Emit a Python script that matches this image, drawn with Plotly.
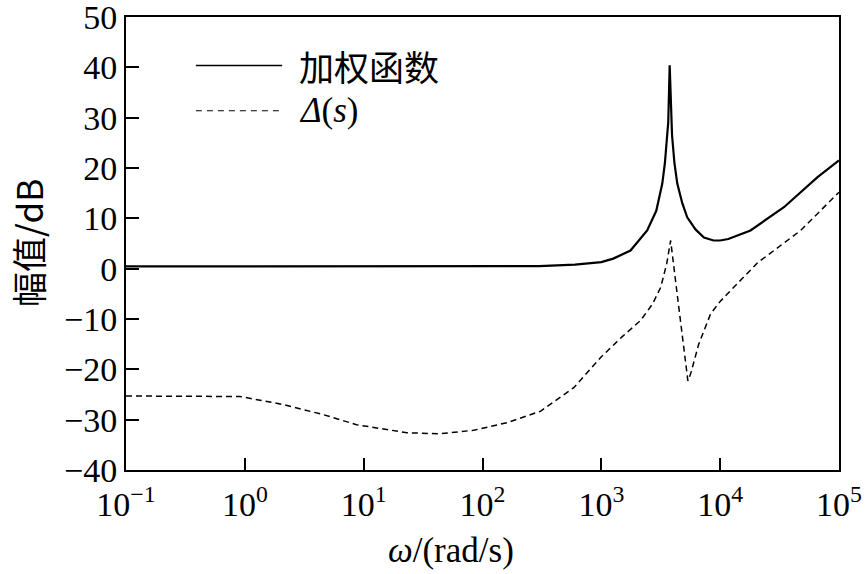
import plotly.graph_objects as go

# Weighting function (solid)
w_weight = [0.1, 1, 10, 100, 300, 600, 1000, 1260, 1760, 2430, 2900, 3258, 3428,
            3589, 3656, 3760, 3864, 3936, 4121, 4355, 4800, 5280, 6200, 7300, 8800,
            10000, 11700, 18000, 34400, 66000, 100000]
db_weight = [0.45, 0.45, 0.45, 0.45, 0.5, 0.8, 1.3, 2.0, 3.6, 7.6, 11.5, 16.9, 21.0,
             26.8, 29.0, 40.4, 29.0, 26.5, 21.0, 16.9, 13.0, 10.2, 7.8, 6.2, 5.6,
             5.6, 5.9, 7.6, 12.2, 18.2, 21.5]

# Delta(s) (dashed)
w_delta = [0.1, 0.5, 0.91, 2.11, 4.57, 8.7, 23.1, 44.2, 84.3, 161, 309, 589, 1000,
           1500, 2140, 2700, 3160, 3550, 3830, 4520, 5350, 5640, 6600, 8300, 10000,
           12300, 20900, 24900, 47600, 100000]
db_delta = [-25.3, -25.3, -25.4, -27.0, -29.0, -31.0, -32.6, -32.8, -32.1, -30.6,
            -28.3, -23.6, -17.5, -13.5, -10.3, -7.0, -3.7, 1.0, 5.6, -8.3, -22.3,
            -20.9, -15.0, -9.0, -6.5, -4.3, 1.3, 2.6, 7.6, 15.2]

x_tickvals = [0.1, 1, 10, 100, 1000, 10000, 100000]
x_ticktext = ["10<sup>−1</sup>", "10<sup>0</sup>", "10<sup>1</sup>", "10<sup>2</sup>",
              "10<sup>3</sup>", "10<sup>4</sup>", "10<sup>5</sup>"]
y_tickvals = [-40, -30, -20, -10, 0, 10, 20, 30, 40, 50]

legend_names = ["加权函数", "<i>Δ</i>(<i>s</i>)"]
x_title = "<i>ω</i>/(rad/s)"
y_title = "幅值/dB"

FONT = "Liberation Serif"
CJK = "Noto Sans CJK SC"

fig = go.Figure()
fig.add_trace(go.Scatter(x=w_weight, y=db_weight, mode="lines",
                         line=dict(color="black", width=2.2), showlegend=False))
fig.add_trace(go.Scatter(x=w_delta, y=db_delta, mode="lines",
                         line=dict(color="black", width=1.5, dash="6px,4px"),
                         showlegend=False))

# Manual legend (long line samples)
fig.add_shape(type="line", xref="paper", yref="paper", x0=0.098, x1=0.219,
              y0=0.893, y1=0.893, line=dict(color="black", width=1.5))
fig.add_shape(type="line", xref="paper", yref="paper", x0=0.098, x1=0.219,
              y0=0.793, y1=0.793, line=dict(color="black", width=1.2, dash="6px,5px"))
fig.add_annotation(xref="paper", yref="paper", x=0.24, y=0.893, text=legend_names[0],
                   showarrow=False, xanchor="left", yanchor="middle",
                   font=dict(family=CJK, size=35, color="black"))
fig.add_annotation(xref="paper", yref="paper", x=0.24, y=0.793, text=legend_names[1],
                   showarrow=False, xanchor="left", yanchor="middle",
                   font=dict(family=FONT, size=35, color="black"))

# axis titles as annotations (positioned as in the original)
fig.add_annotation(xref="paper", yref="paper", x=0.456, y=-0.177, text=x_title,
                   showarrow=False, xanchor="center", yanchor="middle",
                   font=dict(family=FONT, size=35, color="black"))
fig.add_annotation(xref="paper", yref="paper", x=-0.138, y=0.5, text=y_title,
                   showarrow=False, xanchor="center", yanchor="middle", textangle=-90,
                   font=dict(family=CJK, size=35, color="black"))

fig.update_layout(
    width=866, height=574,
    margin=dict(l=126, r=27, t=17, b=104),
    plot_bgcolor="white", paper_bgcolor="white",
    font=dict(family=FONT, size=34, color="black"),
    xaxis=dict(type="log", range=[-1, 5], tickvals=x_tickvals, ticktext=x_ticktext,
               ticks="inside", ticklen=12, tickwidth=2, tickcolor="black",
               showline=True, linecolor="black", linewidth=2, mirror=True,
               showgrid=False, zeroline=False, automargin=False,
               ticklabeloverflow="allow", ticklabelstandoff=3,
               tickfont=dict(family=FONT, size=34)),
    yaxis=dict(range=[-40, 50], tickvals=y_tickvals,
               ticks="inside", ticklen=13, tickwidth=2, tickcolor="black",
               showline=True, linecolor="black", linewidth=2, mirror=True,
               showgrid=False, zeroline=False, automargin=False,
               ticklabeloverflow="allow", tickfont=dict(family=FONT, size=34)),
)

fig.write_html("out.html", config={"displayModeBar": False},
               post_script="document.body.style.margin='0';document.body.style.overflow='hidden';")
